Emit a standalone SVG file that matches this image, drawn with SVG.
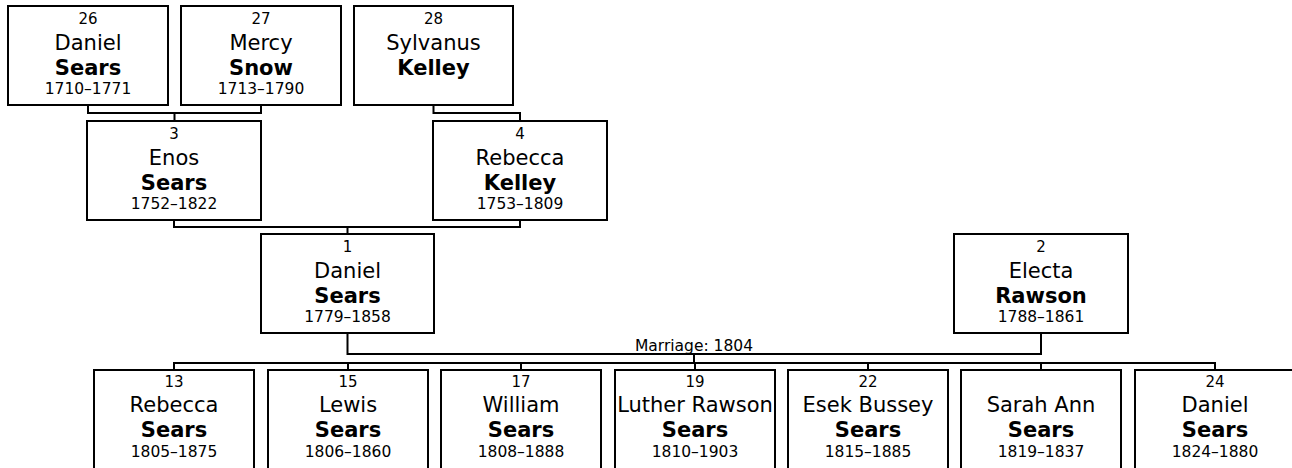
<svg xmlns="http://www.w3.org/2000/svg" width="1292" height="468" viewBox="0 0 1292 468">
<style>
rect.box{fill:#fff;stroke:#000;stroke-width:2}
#connectors path{fill:none;stroke:#000;stroke-width:2}
text{font-family:"DejaVu Sans",Verdana,"Liberation Sans",sans-serif;fill:#000;text-anchor:middle}
.num{font-size:15px}
.given{font-size:21px}
.sur{font-size:21px;font-weight:bold}
.dates{font-size:15.5px}
.lbl{font-size:15.5px}
</style>
<rect width="1292" height="468" fill="#fff"/>
<g id="connectors">
<path d="M88,105V113H261V105M174.5,113V121"/>
<path d="M433.5,105V113H520V121"/>
<path d="M174,220V227H520V220M347.5,227V234"/>
<path d="M347.5,333V354H1041V333"/>
<path d="M694,354V363"/>
<path d="M174,370V363H1215V370M348,363V370M521,363V370M695,363V370M868,363V370M1041,363V370"/>
<text class="lbl" x="694" y="351">Marriage: 1804</text>
</g>
<g id="n26"><rect class="box" x="8" y="6" width="160" height="99"/>
<text class="num" x="88" y="24">26</text><text class="given" x="88" y="50">Daniel</text><text class="sur" x="88" y="75">Sears</text><text class="dates" x="88" y="94">1710–1771</text></g>
<g id="n27"><rect class="box" x="181" y="6" width="160" height="99"/>
<text class="num" x="261" y="24">27</text><text class="given" x="261" y="50">Mercy</text><text class="sur" x="261" y="75">Snow</text><text class="dates" x="261" y="94">1713–1790</text></g>
<g id="n28"><rect class="box" x="354" y="6" width="159" height="99"/>
<text class="num" x="433.5" y="24">28</text><text class="given" x="433.5" y="50">Sylvanus</text><text class="sur" x="433.5" y="75">Kelley</text></g>
<g id="n3"><rect class="box" x="87" y="121" width="174" height="99"/>
<text class="num" x="174" y="139">3</text><text class="given" x="174" y="165">Enos</text><text class="sur" x="174" y="190">Sears</text><text class="dates" x="174" y="209">1752–1822</text></g>
<g id="n4"><rect class="box" x="433" y="121" width="174" height="99"/>
<text class="num" x="520" y="139">4</text><text class="given" x="520" y="165">Rebecca</text><text class="sur" x="520" y="190">Kelley</text><text class="dates" x="520" y="209">1753–1809</text></g>
<g id="n1"><rect class="box" x="261" y="234" width="173" height="99"/>
<text class="num" x="347.5" y="252">1</text><text class="given" x="347.5" y="278">Daniel</text><text class="sur" x="347.5" y="303">Sears</text><text class="dates" x="347.5" y="322">1779–1858</text></g>
<g id="n2"><rect class="box" x="954" y="234" width="174" height="99"/>
<text class="num" x="1041" y="252">2</text><text class="given" x="1041" y="278">Electa</text><text class="sur" x="1041" y="303">Rawson</text><text class="dates" x="1041" y="322">1788–1861</text></g>
<g id="n13"><rect class="box" x="94" y="370" width="160" height="99"/>
<text class="num" x="174" y="387">13</text><text class="given" x="174" y="412">Rebecca</text><text class="sur" x="174" y="437">Sears</text><text class="dates" x="174" y="457">1805–1875</text></g>
<g id="n15"><rect class="box" x="268" y="370" width="160" height="99"/>
<text class="num" x="348" y="387">15</text><text class="given" x="348" y="412">Lewis</text><text class="sur" x="348" y="437">Sears</text><text class="dates" x="348" y="457">1806–1860</text></g>
<g id="n17"><rect class="box" x="441" y="370" width="160" height="99"/>
<text class="num" x="521" y="387">17</text><text class="given" x="521" y="412">William</text><text class="sur" x="521" y="437">Sears</text><text class="dates" x="521" y="457">1808–1888</text></g>
<g id="n19"><rect class="box" x="615" y="370" width="160" height="99"/>
<text class="num" x="695" y="387">19</text><text class="given" x="695" y="412">Luther Rawson</text><text class="sur" x="695" y="437">Sears</text><text class="dates" x="695" y="457">1810–1903</text></g>
<g id="n22"><rect class="box" x="788" y="370" width="160" height="99"/>
<text class="num" x="868" y="387">22</text><text class="given" x="868" y="412">Esek Bussey</text><text class="sur" x="868" y="437">Sears</text><text class="dates" x="868" y="457">1815–1885</text></g>
<g id="nSarah"><rect class="box" x="961" y="370" width="160" height="99"/>
<text class="given" x="1041" y="412">Sarah Ann</text><text class="sur" x="1041" y="437">Sears</text><text class="dates" x="1041" y="457">1819–1837</text></g>
<g id="n24"><rect class="box" x="1135" y="370" width="160" height="99"/>
<text class="num" x="1215" y="387">24</text><text class="given" x="1215" y="412">Daniel</text><text class="sur" x="1215" y="437">Sears</text><text class="dates" x="1215" y="457">1824–1880</text></g>
</svg>
